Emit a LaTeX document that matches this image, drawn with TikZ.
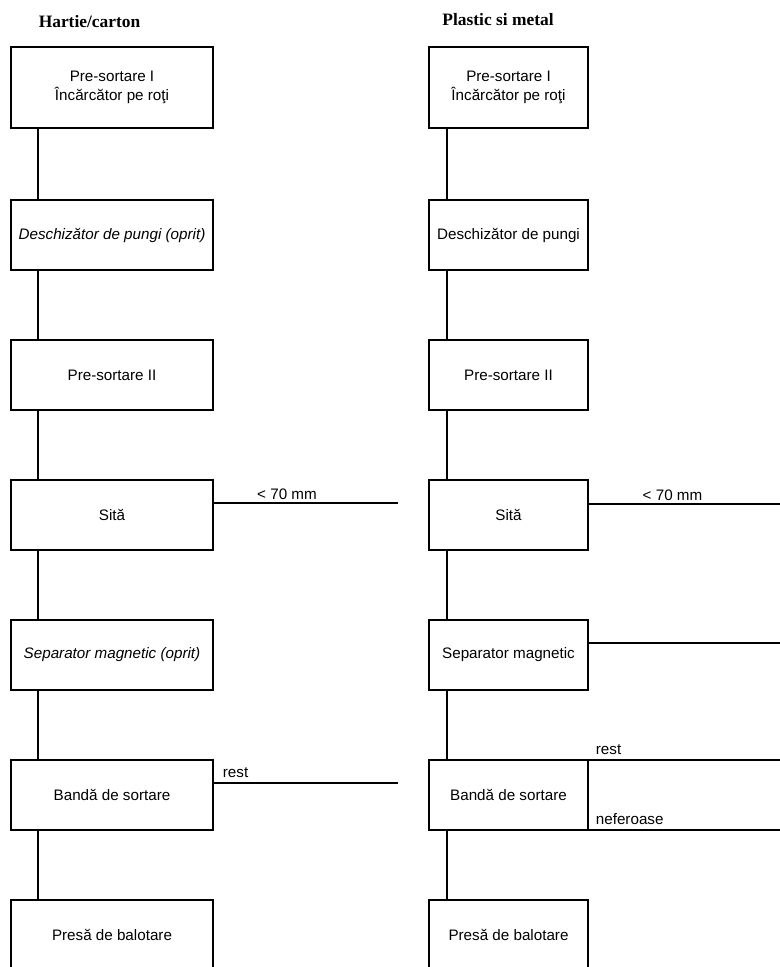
\documentclass[tikz,border=0pt]{standalone}
\usepackage{fontspec}
\setmainfont{Liberation Sans}
\newfontfamily\titlefont{Liberation Serif}
\usetikzlibrary{positioning}
\usetikzlibrary{calc}
\newcommand\mybox[4][]{%
  \node[mybox,#1,minimum width=#2pt] (#3) {#4};
}

\begin{document}
\begin{tikzpicture}[x=0.5pt, y=-0.5pt,
node distance= 35pt,
every path/.style={line width=0.9pt},
mybox/.style={
  rectangle,
  draw,
  minimum height=35pt,
  inner sep=2pt,
  outer sep=0pt,
  align=center,
  font=\fontsize{7.6}{9.4}\selectfont},
mylabel/.style={font=\fontsize{7.6}{9}\selectfont, inner sep=1pt},
mytitle/.style={font=\titlefont\bfseries\fontsize{8.7}{10}\selectfont}
]
\useasboundingbox (0,0) rectangle (780,967);
\node[mytitle] (ltitle) at (89.5,22) {Hartie/carton};
\node[mytitle] (rtitle) at (498,20) {Plastic si metal};
% hartie / carton
\mybox[at={(112,87.5)}, minimum height=40.5pt]{101}{l1}{Pre-sortare I\\Încărcător pe roţi}
\mybox[below=36pt of l1]{101}{l2}{\itshape Deschizător de pungi (oprit)}
\mybox[below=of l2]{101}{l3}{Pre-sortare II}
\mybox[below=of l3]{101}{l4}{Sită}
\mybox[below=of l4]{101}{l5}{\itshape Separator magnetic (oprit)}
\mybox[below=of l5]{101}{l6}{Bandă de sortare}
\mybox[below=of l6]{101}{l7}{Presă de balotare}
% plastic si metal
\mybox[at={(508.5,87.5)}, minimum height=40.5pt]{79.5}{r1}{Pre-sortare I\\Încărcător pe roţi}
\mybox[below=36pt of r1]{79.5}{r2}{Deschizător de pungi}
\mybox[below=of r2]{79.5}{r3}{Pre-sortare II}
\mybox[below=of r3]{79.5}{r4}{Sită}
\mybox[below=of r4]{79.5}{r5}{Separator magnetic}
\mybox[below=of r5]{79.5}{r6}{Bandă de sortare}
\mybox[below=of r6]{79.5}{r7}{Presă de balotare}
\coordinate (lspine) at (38,0);
\coordinate (rspine) at (447,0);
\draw (l1.south -| lspine) -- (l2.north -| lspine);
\draw (l2.south -| lspine) -- (l3.north -| lspine);
\draw (l3.south -| lspine) -- (l4.north -| lspine);
\draw (l4.south -| lspine) -- (l5.north -| lspine);
\draw (l5.south -| lspine) -- (l6.north -| lspine);
\draw (l6.south -| lspine) -- (l7.north -| lspine);
\draw (r1.south -| rspine) -- (r2.north -| rspine);
\draw (r2.south -| rspine) -- (r3.north -| rspine);
\draw (r3.south -| rspine) -- (r4.north -| rspine);
\draw (r4.south -| rspine) -- (r5.north -| rspine);
\draw (r5.south -| rspine) -- (r6.north -| rspine);
\draw (r6.south -| rspine) -- (r7.north -| rspine);
% outputs
\coordinate (lsita) at (398,503);
\coordinate (lrest) at (398,783);
\coordinate (rsita) at (780,504);
\coordinate (rmagnet) at (780,643);
\coordinate (rend) at (780,0);
\draw (l4.east |- lsita) -- (lsita) node [mylabel, pos=0.4, above] {< 70 mm};
\draw (l6.east |- lrest) -- (lrest) node [mylabel, pos=0, above right, xshift=2.5pt, inner sep=2pt] {rest};
\draw (r4.east |- rsita) -- (rsita) node [mylabel, pos=0.44, above] {< 70 mm};
\draw (r5.east |- rmagnet) -- (rmagnet);
\draw (r6.north east) -- (r6.north east -| rend) node [mylabel, pos=0, above right, xshift=1.5pt, inner sep=2pt] {rest};
\draw (r6.south east) -- (r6.south east -| rend) node [mylabel, pos=0, above right, xshift=1.5pt, inner sep=2pt] {neferoase};
\end{tikzpicture}
\end{document}
